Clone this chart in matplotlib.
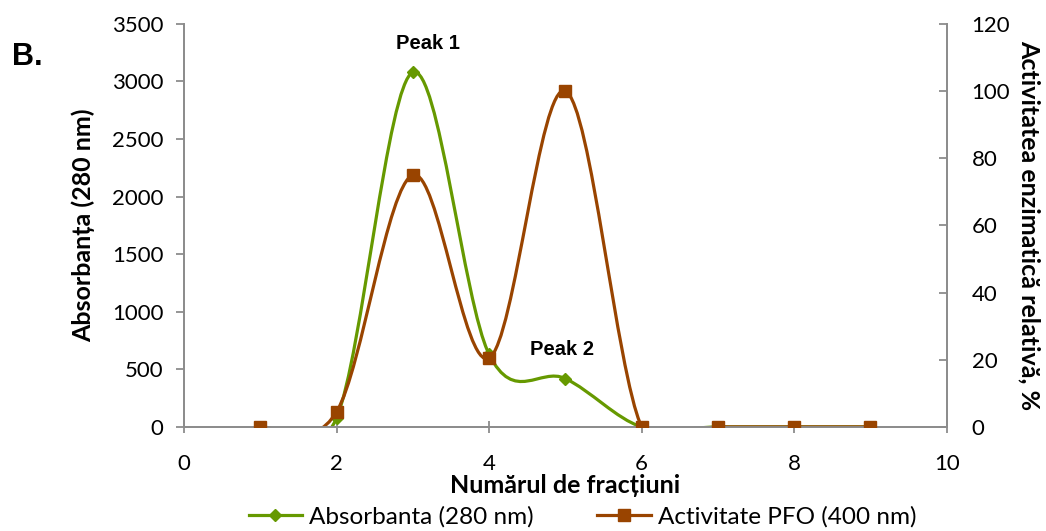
import matplotlib.pyplot as plt
import numpy as np
from matplotlib.path import Path
from matplotlib.patches import PathPatch
from matplotlib.lines import Line2D

# fractiuni
fractii = [1, 2, 3, 4, 5, 6, 7, 8, 9]
absorbanta = [0, 80, 3080, 630, 420, 0, 0, 0, 0]
activitate = [0, 4.5, 75, 20.5, 100, 0, 0, 0, 0]

verde = '#669900'
maro = '#994400'
gri = '#8c8c8c'
tick_font = 'Lato'
bold_font = 'Liberation Sans'


def curba_excel(x, y):
    # curba neteda ca in Excel (bezier cubic prin puncte)
    x = np.asarray(x, float)
    y = np.asarray(y, float)
    n = len(x)
    verts = [(x[0], y[0])]
    codes = [Path.MOVETO]
    for i in range(n - 1):
        i0 = max(i - 1, 0)
        i3 = min(i + 2, n - 1)
        c1 = (x[i] + (x[i + 1] - x[i0]) / 6, y[i] + (y[i + 1] - y[i0]) / 6)
        c2 = (x[i + 1] - (x[i3] - x[i]) / 6, y[i + 1] - (y[i3] - y[i]) / 6)
        verts += [c1, c2, (x[i + 1], y[i + 1])]
        codes += [Path.CURVE4] * 3
    return Path(verts, codes)


fig = plt.figure(figsize=(10.46, 5.31), dpi=100)
ax = fig.add_axes([0.176, 0.196, 0.729, 0.759])
ax2 = ax.twinx()

ax.add_patch(PathPatch(curba_excel(fractii, absorbanta), fill=False,
                       edgecolor=verde, lw=2.3, zorder=2))
ax.plot(fractii, absorbanta, linestyle='none', marker='D', ms=6,
        color=verde, zorder=3)

ax2.add_patch(PathPatch(curba_excel(fractii, activitate), fill=False,
                        edgecolor=maro, lw=2.3, zorder=2))
ax2.plot(fractii, activitate, linestyle='none', marker='s', ms=9,
         color=maro, zorder=3)

ax.set_xlim(0, 10)
ax.set_ylim(0, 3500)
ax2.set_ylim(0, 120)
ax.set_xticks([0, 2, 4, 6, 8, 10])
ax.set_yticks(np.arange(0, 3501, 500))
ax2.set_yticks(np.arange(0, 121, 20))

for a in (ax, ax2):
    a.spines['top'].set_visible(False)
    for s in ('left', 'right', 'bottom'):
        a.spines[s].set_color(gri)
        a.spines[s].set_linewidth(1.3)
    a.tick_params(colors=gri, labelcolor='black', width=1.3, length=6)
    for lab in a.get_xticklabels() + a.get_yticklabels():
        lab.set_fontfamily(tick_font)
        lab.set_fontsize(16)
ax.tick_params(axis='y', direction='out', pad=9)
ax.tick_params(axis='x', direction='inout', length=9, pad=15)
ax2.tick_params(axis='y', direction='in', pad=18)

ax.set_ylabel('Absorbanța (280 nm)', fontsize=18, fontweight='bold',
              family=tick_font, labelpad=12)
ax.set_xlabel('Numărul de fracțiuni', fontsize=18, fontweight='bold',
              family=tick_font, labelpad=0)
ax2.set_ylabel('Activitatea enzimatică relativă, %', fontsize=18,
               fontweight='bold', family=tick_font, rotation=-90,
               labelpad=22)

ax.text(3.2, 3330, 'Peak 1', fontsize=14.5, fontweight='bold',
        family=bold_font, ha='center', va='center')
ax.text(4.95, 670, 'Peak 2', fontsize=14.5, fontweight='bold',
        family=bold_font, ha='center', va='center')
fig.text(0.011, 0.893, 'B.', fontsize=22, fontweight='bold',
         family=bold_font, va='center')

handles = [
    Line2D([], [], color=verde, lw=2.3, marker='D', ms=6),
    Line2D([], [], color=maro, lw=2.3, marker='s', ms=9),
]
fig.legend(handles, ['Absorbanta (280 nm)', 'Activitate PFO (400 nm)'],
           loc='center', bbox_to_anchor=(0.557, 0.027), ncol=2,
           frameon=False, handlelength=2.2, columnspacing=2.6,
           handletextpad=0.3, borderpad=0,
           prop={'family': tick_font, 'size': 17.5})

fig.savefig('out.png', dpi=100)
